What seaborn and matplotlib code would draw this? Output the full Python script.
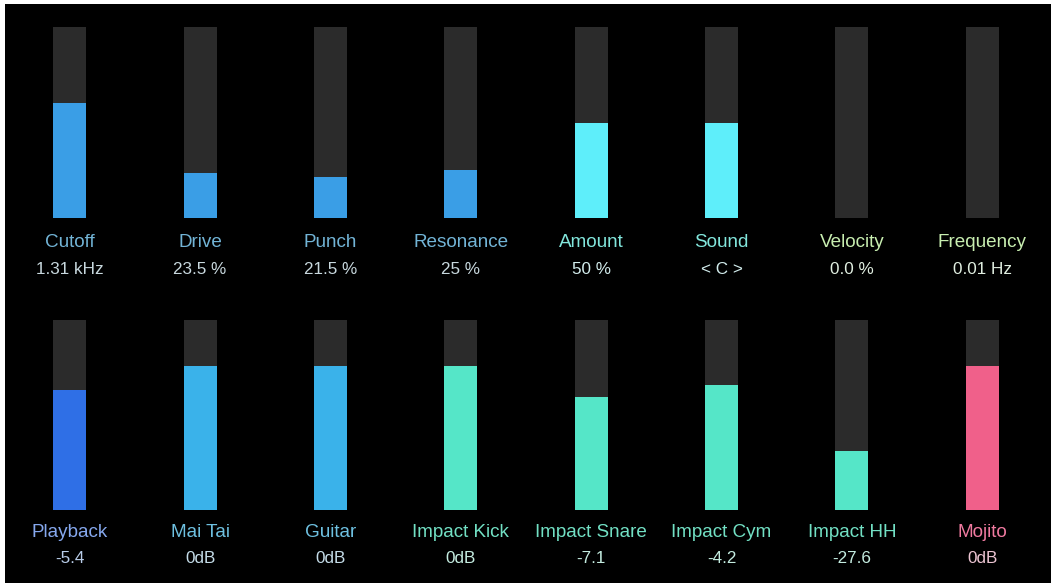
import matplotlib
matplotlib.use("Agg")
import matplotlib.pyplot as plt
import matplotlib.transforms as mtransforms
from matplotlib.patches import Rectangle
import seaborn as sns
import pandas as pd

# ---- data ----
top_names = ["Cutoff", "Drive", "Punch", "Resonance", "Amount", "Sound", "Velocity", "Frequency"]
top_values = ["1.31 kHz", "23.5 %", "21.5 %", "25 %", "50 %", "< C >", "0.0 %", "0.01 Hz"]
top_levels = [0.60, 0.235, 0.215, 0.25, 0.50, 0.50, 0.0, 0.0]

bottom_names = ["Playback", "Mai Tai", "Guitar", "Impact Kick", "Impact Snare", "Impact Cym", "Impact HH", "Mojito"]
bottom_values = ["-5.4", "0dB", "0dB", "0dB", "-7.1", "-4.2", "-27.6", "0dB"]
bottom_levels = [0.63, 0.76, 0.76, 0.76, 0.595, 0.66, 0.31, 0.76]

top_fill = ["#3a9ee6"] * 4 + ["#5eeefa"] * 2 + ["#3a9ee6"] * 2
top_label_col = ["#72b4d6"] * 4 + ["#82e6dc"] * 2 + ["#c8eeb0"] * 2
top_value_col = ["#c8d8de"] * 4 + ["#d2ecec"] * 2 + ["#e0eee0"] * 2

bottom_fill = ["#2f6fe6", "#3ab2ea", "#3ab2ea", "#55e6c8", "#55e6c8", "#55e6c8", "#55e6c8", "#f0608a"]
bottom_label_col = ["#86a8ee", "#6ec0e0", "#6ec0e0", "#72e0c4", "#72e0c4", "#72e0c4", "#72e0c4", "#f07aa0"]
bottom_value_col = ["#b8cce8", "#c4dce8", "#c4dce8", "#c4ece0", "#c4ece0", "#c4ece0", "#c4ece0", "#ecc4d2"]

TRACK = "#2b2b2b"

sns.set_theme(style="dark")
plt.rcParams['font.family'] = ['Liberation Sans', 'DejaVu Sans']

W, H = 1051, 583
fig = plt.figure(figsize=(W / 100, H / 100), dpi=100, facecolor="black")

def px_axes(top_px, bottom_px):
    left = (69.75 - 65.18) / W
    width = 8 * 130.36 / W
    return fig.add_axes([left, 1 - bottom_px / H, width, (bottom_px - top_px) / H])

def draw_row(ax, names, values, levels, fills, lab_cols, val_cols, name_y, val_y):
    df = pd.DataFrame({"name": names, "level": levels, "full": [1.0] * len(names)})
    sns.barplot(data=df, x="name", y="full", color=TRACK, width=0.253,
                saturation=1, ax=ax, zorder=1, linewidth=0, edgecolor="none")
    sns.barplot(data=df, x="name", y="level", hue="name", palette=fills,
                width=0.253, saturation=1, legend=False, ax=ax, zorder=2, dodge=False,
                linewidth=0, edgecolor="none")
    ax.set_xlim(-0.5, len(names) - 0.5)
    ax.set_ylim(0, 1)
    ax.set_facecolor("black")
    ax.axis("off")
    trans = mtransforms.blended_transform_factory(ax.transData, ax.transAxes)
    for i, (n, v) in enumerate(zip(names, values)):
        ax.text(i, name_y, n, transform=trans, ha="center", va="baseline",
                fontsize=13.6, color=lab_cols[i])
        ax.text(i, val_y, v, transform=trans, ha="center", va="baseline",
                fontsize=12.3, color=val_cols[i])

ax_top = px_axes(27, 218)
draw_row(ax_top, top_names, top_values, top_levels, top_fill,
         top_label_col, top_value_col, -0.152, -0.293)

ax_bot = px_axes(320, 510)
draw_row(ax_bot, bottom_names, bottom_values, bottom_levels, bottom_fill,
         bottom_label_col, bottom_value_col, -0.142, -0.279)

# thin white frame strips at top and left (as in the screenshot)
fig.add_artist(Rectangle((0, 1 - 4 / H), 1, 4 / H, transform=fig.transFigure,
                         facecolor="white", edgecolor="none", zorder=10))
fig.add_artist(Rectangle((0, 0), 5 / W, 1, transform=fig.transFigure,
                         facecolor="white", edgecolor="none", zorder=10))

fig.savefig("out.png", dpi=100, facecolor="black")
